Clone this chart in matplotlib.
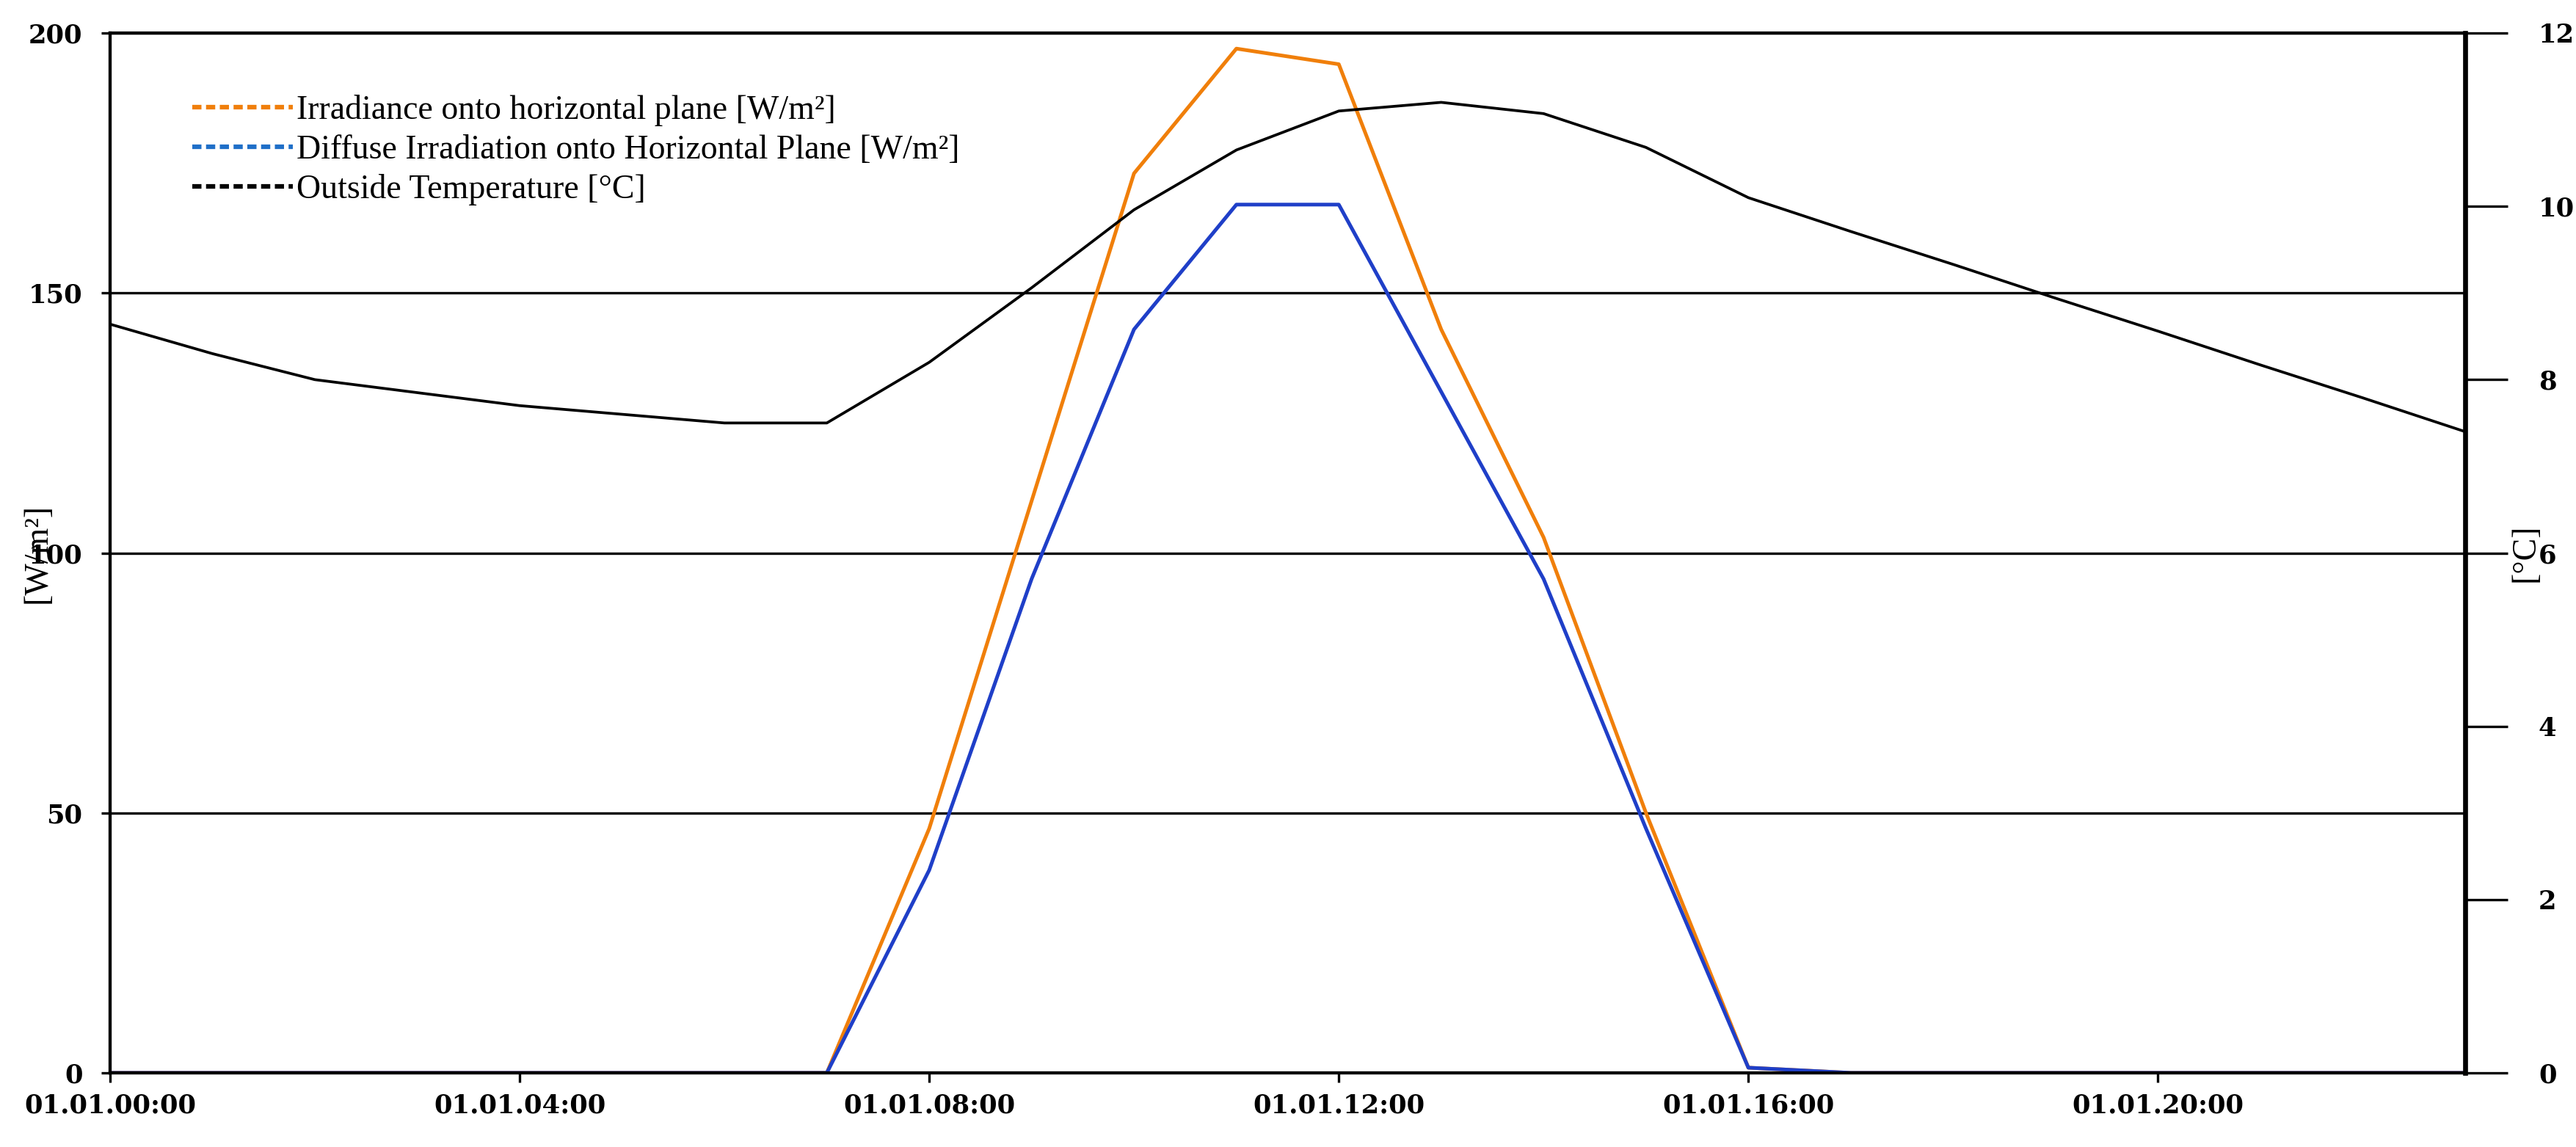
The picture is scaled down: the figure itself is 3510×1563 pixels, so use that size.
import matplotlib
matplotlib.use("Agg")
import matplotlib.pyplot as plt
import numpy as np

hours = list(range(24))
irradiance = [0,0,0,0,0,0,0,0,47,110,173,197,194,143,103,50,1,0,0,0,0,0,0,0]
diffuse = [0,0,0,0,0,0,0,0,39,95,143,167,167,131,95,47,1,0,0,0,0,0,0,0]
temperature = [8.64,8.3,8.0,7.85,7.7,7.6,7.5,7.5,8.2,9.06,9.96,10.65,11.1,11.2,11.07,10.68,10.1,
               9.71,9.33,8.94,8.56,8.17,7.79,7.4]
xtick_hours = [0,4,8,12,16,20]
xtick_labels = ["01.01.00:00","01.01.04:00","01.01.08:00","01.01.12:00","01.01.16:00","01.01.20:00"]

plt.rcParams['font.family'] = ['Liberation Serif', 'DejaVu Serif']
fig = plt.figure(figsize=(11.703, 5.21), dpi=300)
ax = fig.add_axes([150/3511, 1-1462/1563, (3359-150)/3511, (1462-45)/1563])
ax2 = ax.twinx()

ax.set_yticks([0,50,100,150,200])
ax.grid(axis='y', color='black', lw=0.8)
ax.set_axisbelow(True)
ax.plot(hours, irradiance, color='#f07f0a', lw=1.2, zorder=3)
ax.plot(hours, diffuse, color='#1f3fc8', lw=1.2, zorder=3)
ax2.plot(hours, temperature, color='black', lw=0.9)
ax.set_xlim(0, 23)
ax.set_ylim(0, 200)
ax2.set_ylim(0, 12)
ax2.set_yticks([0,2,4,6,8,10,12])
ax.set_xticks(xtick_hours)
ax.set_xticklabels(xtick_labels)
for a in (ax, ax2):
    a.tick_params(width=0.8)
    for lab in a.get_xticklabels()+a.get_yticklabels():
        lab.set_fontweight('bold')
        lab.set_fontfamily(['DejaVu Serif'])
        lab.set_fontsize(8.5)
ax2.tick_params(axis='y', length=14, pad=10)
ax.tick_params(axis='y', length=3, pad=6)
ax.tick_params(axis='x', length=3)
ax.set_ylabel('[W/m²]', fontsize=11)
ax2.set_ylabel('[°C]', fontsize=11, rotation=90)
ax.yaxis.set_label_coords(-0.024, 0.5)
ax2.yaxis.set_label_coords(1.019, 0.5)
for s in ax.spines.values():
    s.set_linewidth(1.0)
for s in ax2.spines.values():
    s.set_linewidth(1.0)
ax2.spines['right'].set_linewidth(1.6)

from matplotlib.lines import Line2D
handles = [Line2D([],[],color='#f07f0a',ls=(0,(2,1)),lw=1.5),
           Line2D([],[],color='#1f6fc8',ls=(0,(2,1)),lw=1.5),
           Line2D([],[],color='black',ls=(0,(2,1)),lw=1.5)]
labels = ['Irradiance onto horizontal plane [W/m²]',
          'Diffuse Irradiation onto Horizontal Plane [W/m²]',
          'Outside Temperature [°C]']
ax2.legend(handles, labels, loc='upper left', bbox_to_anchor=(0.022, 0.97), frameon=False,
           fontsize=11, handlelength=3, handletextpad=0.1, labelspacing=0.25)
fig.savefig('out.png', dpi=300)
